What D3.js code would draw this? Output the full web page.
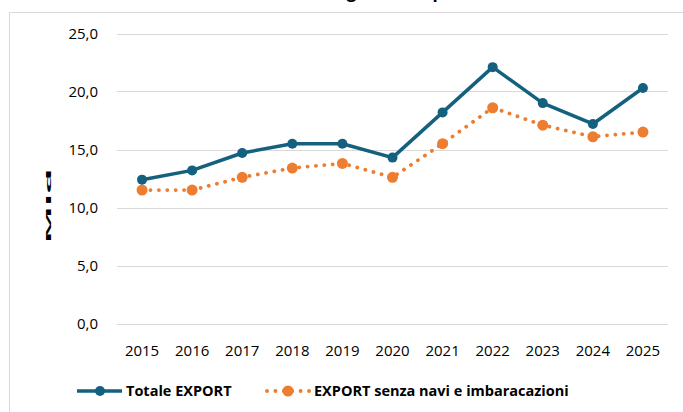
<!DOCTYPE html>
<html>
<head>
<meta charset="utf-8">
<script src="https://cdn.jsdelivr.net/npm/d3@7"></script>
<style>
  body { margin: 0; background: #fff; }
  text { font-family: "Open Sans", sans-serif; fill: #000; }
</style>
</head>
<body>
<svg id="chart" width="683" height="412"></svg>
<script>
// chart data
const years = ['2015', '2016', '2017', '2018', '2019', '2020', '2021', '2022', '2023', '2024', '2025'];
const totaleExport = [12.4, 13.2, 14.7, 15.5, 15.5, 14.3, 18.2, 22.1, 19.0, 17.2, 20.3];
const exportSenzaNavi = [11.5, 11.5, 12.6, 13.4, 13.8, 12.6, 15.5, 18.6, 17.1, 16.1, 16.5];
const yTicks = [0, 5, 10, 15, 20, 25];
const seriesNames = ['Totale EXPORT', 'EXPORT senza navi e imbaracazioni'];

const blue = '#14607f';
const orange = '#ed7d31';

const svg = d3.select('#chart');

// outer chart border (runs off right / bottom)
svg.append('rect')
    .attr('x', 9.5).attr('y', 12.5)
    .attr('width', 720).attr('height', 450)
    .attr('fill', 'none')
    .attr('stroke', '#d9d9d9');

// title, mostly cut off at the top like in the source
svg.append('text')
    .attr('x', 372).attr('y', -2)
    .attr('text-anchor', 'middle')
    .style('font-size', '17px')
    .style('font-weight', 'bold')
    .text('Trend regionale Export');

const x = d3.scaleBand().domain(years).range([117, 668]);
const y = d3.scaleLinear().domain([0, 25]).range([323.5, 33.5]);

// gridlines
svg.append('g')
    .selectAll('line')
    .data(yTicks)
    .enter().append('line')
    .attr('x1', 117).attr('x2', 668)
    .attr('y1', d => Math.round(y(d)) + 0.5)
    .attr('y2', d => Math.round(y(d)) + 0.5)
    .attr('stroke', '#d9d9d9')
    .attr('stroke-width', 1);

// y axis labels
const yAxis = svg.append('g')
    .attr('transform', 'translate(101,0)')
    .call(d3.axisLeft(y).tickValues(yTicks).tickSize(0).tickFormat(d => d3.format('.1f')(d).replace('.', ',')));
yAxis.select('.domain').remove();
yAxis.selectAll('text')
    .style('font-family', '"Open Sans", sans-serif')
    .style('font-size', '15px')
    .attr('fill', '#000');

// x axis labels
const xAxis = svg.append('g')
    .attr('transform', 'translate(0,342)')
    .call(d3.axisBottom(x).tickSize(0));
xAxis.select('.domain').remove();
xAxis.selectAll('text')
    .style('font-family', '"Open Sans", sans-serif')
    .style('font-size', '15px')
    .attr('fill', '#000');

// y axis title (squeezed)
svg.append('text')
    .attr('transform', 'translate(51,206) rotate(-90)')
    .attr('text-anchor', 'middle')
    .attr('textLength', 75)
    .attr('lengthAdjust', 'spacingAndGlyphs')
    .style('font-size', '7px')
    .style('font-weight', 'bold')
    .text('Mld');

const cx = d => x(d) + x.bandwidth() / 2;
const line = d3.line()
    .x((d, i) => cx(years[i]))
    .y(d => y(d));

// orange dotted series
svg.append('path')
    .datum(exportSenzaNavi)
    .attr('d', line)
    .attr('fill', 'none')
    .attr('stroke', orange)
    .attr('stroke-width', 3.8)
    .attr('stroke-linecap', 'round')
    .attr('stroke-dasharray', '0.1 8.3');
svg.append('g')
    .selectAll('circle')
    .data(exportSenzaNavi)
    .enter().append('circle')
    .attr('cx', (d, i) => cx(years[i]))
    .attr('cy', d => y(d))
    .attr('r', 5.5)
    .attr('fill', orange);

// blue solid series
svg.append('path')
    .datum(totaleExport)
    .attr('d', line)
    .attr('fill', 'none')
    .attr('stroke', blue)
    .attr('stroke-width', 3.5)
    .attr('stroke-linejoin', 'round');
svg.append('g')
    .selectAll('circle')
    .data(totaleExport)
    .enter().append('circle')
    .attr('cx', (d, i) => cx(years[i]))
    .attr('cy', d => y(d))
    .attr('r', 5)
    .attr('fill', blue);

// legend
const legendItems = [
    {label: seriesNames[0], color: blue, dash: null, r: 5, x0: 77},
    {label: seriesNames[1], color: orange, dash: '0.1 8.3', r: 5.5, x0: 265}
];
const legend = svg.append('g')
    .attr('class', 'legend')
    .attr('transform', 'translate(0,391)');
const li = legend.selectAll('.legend-item')
    .data(legendItems)
    .enter().append('g')
    .attr('class', 'legend-item')
    .attr('transform', d => `translate(${d.x0},0)`);
li.append('line')
    .attr('x1', d => d.dash ? 2 : 0).attr('x2', 45)
    .attr('y1', 0).attr('y2', 0)
    .attr('stroke', d => d.color)
    .attr('stroke-width', d => d.dash ? 3.8 : 3.5)
    .attr('stroke-linecap', d => d.dash ? 'round' : 'butt')
    .attr('stroke-dasharray', d => d.dash);
li.append('circle')
    .attr('cx', 23).attr('cy', 0)
    .attr('r', d => d.r)
    .attr('fill', d => d.color);
li.append('text')
    .attr('x', 49).attr('y', 0)
    .attr('dy', '0.35em')
    .style('font-size', '14.5px')
    .style('font-weight', 'bold')
    .text(d => d.label);
</script>
</body>
</html>
